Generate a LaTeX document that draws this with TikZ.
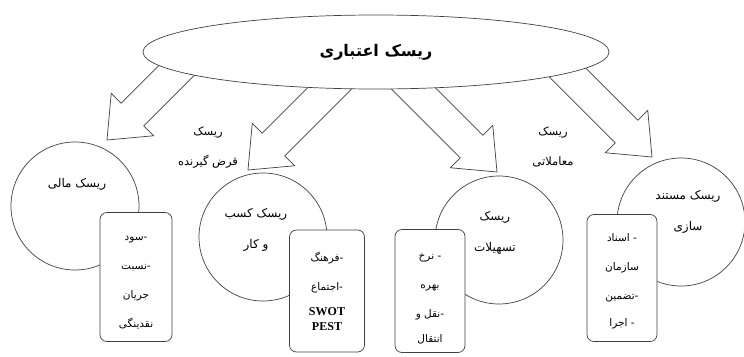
\documentclass[tikz,border=0pt]{standalone}
\usepackage{fontspec}
\setmainfont{Liberation Serif}
\newfontfamily\arabicfont[Script=Arabic]{DejaVu Sans}
\usetikzlibrary{shapes.geometric, positioning}
\TeXXeTstate=1
\newcommand{\fa}[1]{{\arabicfont\beginR #1\endR}}

\tikzset{
  pics/blkarrow/.style={code={
    \draw[draw=black!75, line width=0.7pt, fill=white] (0pt,0pt) -- (-36pt,30pt) -- (-36pt,16pt)
      -- (-#1pt,16pt) -- (-#1pt,-16pt) -- (-36pt,-16pt) -- (-36pt,-30pt) -- cycle;}}}

\begin{document}
\begin{tikzpicture}[x=1pt, y=-1pt,
  outl/.style={draw=black!75, line width=0.7pt},
  circ/.style={outl, circle, minimum size=128pt, inner sep=0pt},
  box/.style={outl, fill=white, rounded corners=7pt, minimum width=72pt,
              minimum height=125pt, inner sep=0pt},
  boxtxt/.style={align=center, font=\fontsize{10.5}{29}\selectfont},
  txt/.style={align=center, font=\fontsize{12}{31}\selectfont}]
\useasboundingbox (0,0) rectangle (744,356);
% block arrows
\coordinate (t1) at (107,140);
\coordinate (t2) at (248,170);
\coordinate (t3) at (497,172);
\coordinate (t4) at (652,157);
\pic[rotate=-135] at (t1) {blkarrow=125};
\pic[rotate=-135] at (t2) {blkarrow=150};
\pic[rotate=-45] at (t3) {blkarrow=150};
\pic[rotate=-45] at (t4) {blkarrow=150};
% main ellipse
\node[outl, ellipse, fill=white, minimum width=466pt, minimum height=74pt,
      font=\fontsize{16}{18}\selectfont\bfseries] (risk) at (376,52) {\fa{ریسک اعتباری}};
% circles
\node[circ] (c1) at (75,206) {};
\node[circ] (c2) at (263,237) {};
\node[circ] (c3) at (499,240) {};
\node[circ] (c4) at (681,222) {};
\node[txt] (c1t) at (77,184) {\fa{ریسک مالی}};
\node[txt] (c2t) at (256,230) {\fa{ریسک کسب}\\\fa{و کار}};
\node[txt] (c3t) at (495,233) {\fa{ریسک}\\\fa{تسهیلات}};
\node[txt] (c4t) at (688,212) {\fa{ریسک مستند}\\\fa{سازی}};
% labels between arrows
\node[txt, font=\fontsize{11.5}{30}\selectfont] (l1) at (208,148) {\fa{ریسک}\\\fa{قرض گیرنده}};
\node[txt, font=\fontsize{11.5}{30}\selectfont] (l2) at (553,147) {\fa{ریسک}\\\fa{معاملاتی}};
% boxes
\node[box, minimum height=129pt] (b1) at (136,277) {};
\node[box, minimum width=75pt, minimum height=122pt] (b2) at (327,291) {};
\node[box, minimum width=70pt, minimum height=123pt] (b3) at (430,291) {};
\node[box, minimum width=70pt, minimum height=127pt] (b4) at (622,278) {};
\node[boxtxt] (b1t) at ([yshift=-6pt]b1.center) {\fa{-سود}\\\fa{-نسبت}\\\fa{جریان}\\\fa{نقدینگی}};
\node[boxtxt] (b2t) at (b2.center)
  {\fa{-فرهنگ}\\\fa{-اجتماع}\\[-4pt]{\fontsize{12}{12}\selectfont\bfseries SWOT}\\[-14pt]{\fontsize{12}{12}\selectfont\bfseries PEST}};
\node[boxtxt] (b3t) at ([yshift=-8pt]b3.center) {\fa{- نرخ}\\\fa{بهره}\\\fa{-نقل و}\\[-4pt]\fa{انتقال}};
\node[boxtxt] (b4t) at ([yshift=-3pt]b4.center) {\fa{- اسناد}\\\fa{سازمان}\\\fa{-تضمین}\\[-2pt]\fa{- اجرا}};
\end{tikzpicture}
\end{document}
